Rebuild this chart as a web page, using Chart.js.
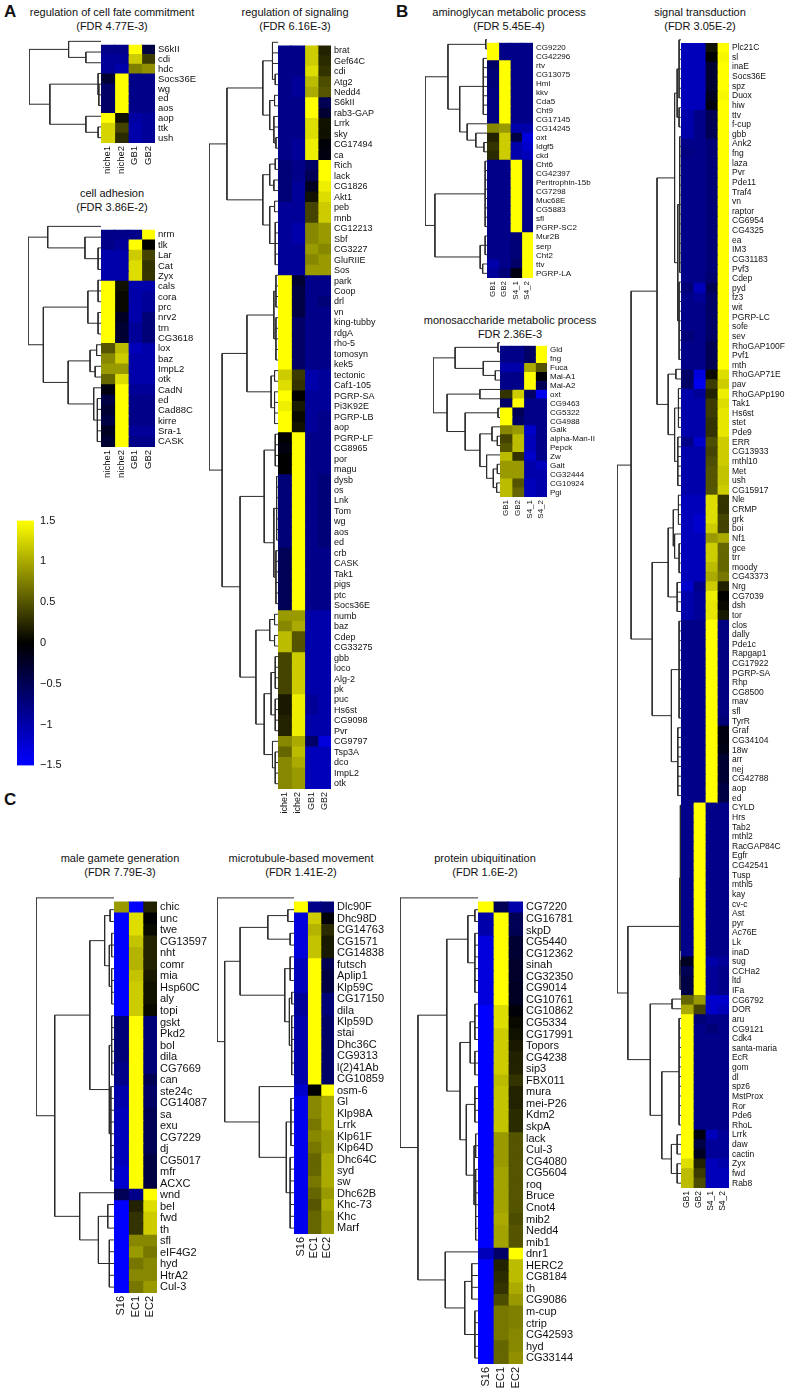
<!DOCTYPE html>
<html>
<head>
<meta charset="utf-8">
<script src="https://cdn.jsdelivr.net/npm/chart.js@4.4.1/dist/chart.umd.min.js"></script>
<style>
  body { margin: 0; background: #fff; }
  #fig { position: relative; width: 786px; height: 1388px; overflow: hidden;
         font-family: "Liberation Sans", Arial, sans-serif; color: #111; }
  .title { position: absolute; font-size: 11px; line-height: 14px; text-align: center;
           white-space: nowrap; transform: translateX(-50%); }
  .letter { position: absolute; font-size: 17px; font-weight: bold; }
  canvas { position: absolute; }
</style>
</head>
<body>
<div id="fig"></div>
<script>
// ---- column labels and colour key ----
const colsA = ['niche1', 'niche2', 'GB1', 'GB2'];
const colsB = ['GB1', 'GB2', 'S4_1', 'S4_2'];
const colsC = ['S16', 'EC1', 'EC2'];
const barTicks = [1.5, 1, 0.5, 0, -0.5, -1, -1.5];

// ---- A: regulation of cell fate commitment ----
const fateGenes = ['S6kII', 'cdi', 'hdc', 'Socs36E', 'wg', 'ed', 'aos', 'aop', 'ttk', 'ush'];
const fateVals = [
  [-0.8, -0.8, 1.5, -0.4], [-0.9, -0.9, 1.2, 0.35], [-0.9, -1.0, 0.75, 0.85],
  [-0.3, 1.5, -0.8, -0.8], [-0.6, 1.5, -0.8, -0.8], [-0.6, 1.5, -0.8, -0.8], [-0.6, 1.5, -0.8, -0.8],
  [1.5, 0.1, -0.95, -0.9], [1.25, 0.4, -1.0, -0.9], [1.25, 0.25, -1.0, -0.9]
];
const fateTree = [1, [0.45, 0, [0.21, 1, 2]], [0.71, [0.04, 3, [0.03, 4, 5, 6]], [0.21, 7, [0.04, 8, 9]]]];

// ---- A: cell adhesion ----
const adhGenes = ['nrm', 'tlk', 'Lar', 'Cat', 'Zyx', 'cals', 'cora', 'prc', 'nrv2', 'trn', 'CG3618',
  'lox', 'baz', 'ImpL2', 'otk', 'CadN', 'ed', 'Cad88C', 'kirre', 'Sra-1', 'CASK'];
const adhVals = [
  [-0.8, -0.8, -0.8, 1.5], [-0.8, -0.9, 1.5, 0.0], [-1.0, -1.0, 1.2, 0.4], [-1.0, -1.0, 1.3, 0.3],
  [-1.0, -1.0, 1.3, 0.3], [1.5, 0.1, -1.0, -1.0], [1.5, 0.05, -1.0, -0.9], [1.5, 0.05, -1.0, -0.9],
  [1.5, -0.2, -1.0, -0.7], [1.5, -0.3, -0.9, -0.7], [1.5, -0.3, -0.9, -0.7], [0.5, 1.1, -1.1, -1.0],
  [0.8, 1.2, -1.0, -1.0], [0.9, 0.9, -1.0, -1.0], [0.6, 1.3, -1.0, -1.0], [-0.1, 1.5, -0.9, -0.9],
  [-0.4, 1.5, -0.8, -0.8], [-0.3, 1.5, -0.8, -0.8], [-0.4, 1.5, -0.8, -0.8], [-0.2, 1.5, -0.9, -0.9],
  [-0.3, 1.5, -0.8, -0.8]
];
const adhTree = [1, [0.73, 0, [0.22, 1, [0.04, 2, 3, 4]]],
  [0.79, [0.18, [0.04, 5, 6, 7], [0.04, 8, 9, 10]],
    [0.45, [0.15, [0.06, 11, 12], [0.08, 13, 14]], [0.1, 15, [0.05, 16, 17, 18, 19, 20]]]]];

// ---- A: regulation of signaling ----
const sigGenes = ['brat', 'Gef64C', 'cdi', 'Atg2', 'Nedd4', 'S6kII', 'rab3-GAP', 'Lrrk', 'sky', 'CG17494',
  'ca', 'Rich', 'lack', 'CG1826', 'Akt1', 'peb', 'mnb', 'CG12213', 'Sbf', 'CG3227', 'GluRIIE', 'Sos',
  'park', 'Coop', 'drl', 'vn', 'king-tubby', 'rdgA', 'rho-5', 'tomosyn', 'kek5', 'tectonic', 'Caf1-105',
  'PGRP-SA', 'Pi3K92E', 'PGRP-LB', 'aop', 'PGRP-LF', 'CG8965', 'por', 'magu', 'dysb', 'os', 'Lnk', 'Tom',
  'wg', 'aos', 'ed', 'crb', 'CASK', 'Tak1', 'pigs', 'ptc', 'Socs36E', 'numb', 'baz', 'Cdep', 'CG33275',
  'gbb', 'loco', 'Alg-2', 'pk', 'puc', 'Hs6st', 'CG9098', 'Pvr', 'CG9797', 'Tsp3A', 'dco', 'ImpL2', 'otk'];
const sigVals = [
  [-0.8, -0.8, 1.2, 0.2], [-0.8, -0.8, 1.2, 0.25], [-0.8, -0.8, 1.3, 0.3], [-0.8, -0.9, 1.1, 0.45],
  [-0.8, -0.9, 1.0, 0.5], [-0.8, -0.8, 1.5, -0.5], [-0.8, -0.8, 1.5, -0.3], [-0.8, -0.8, 1.3, 0.1],
  [-0.8, -0.8, 1.3, 0.1], [-0.8, -0.9, 1.4, -0.05], [-0.8, -0.9, 1.4, -0.1], [-0.7, -0.8, -0.6, 1.5],
  [-0.7, -0.8, -0.5, 1.5], [-0.7, -0.9, -0.2, 1.4], [-0.7, -0.9, 0.1, 1.3], [-0.9, -0.9, 0.4, 1.2],
  [-0.9, -0.9, 0.4, 1.2], [-0.9, -1.0, 0.8, 0.9], [-0.9, -1.0, 0.8, 0.9], [-0.9, -0.9, 0.9, 0.8],
  [-0.9, -0.9, 0.8, 0.9], [-0.9, -0.9, 0.9, 0.9], [1.5, -0.3, -0.8, -0.8], [1.5, -0.4, -0.8, -0.8],
  [1.5, -0.4, -0.8, -0.7], [1.5, -0.4, -0.8, -0.8], [1.5, -0.6, -0.8, -0.8], [1.5, -0.6, -0.8, -0.8],
  [1.5, -0.6, -0.8, -0.8], [1.5, -0.6, -0.8, -0.8], [1.5, -0.6, -0.8, -0.8], [1.2, 0.35, -1.0, -0.9],
  [1.3, 0.3, -1.0, -0.9], [1.5, 0.0, -0.9, -0.9], [1.4, 0.15, -0.9, -0.9], [1.5, 0.05, -0.9, -0.8],
  [1.5, 0.1, -0.9, -0.8], [0.0, 1.5, -0.8, -0.8], [-0.1, 1.5, -0.8, -0.8], [0.0, 1.5, -0.8, -0.8],
  [0.0, 1.5, -0.8, -0.8], [-0.7, 1.5, -0.8, -0.7], [-0.7, 1.5, -0.8, -0.7], [-0.7, 1.5, -0.8, -0.7],
  [-0.7, 1.5, -0.8, -0.7], [-0.7, 1.5, -0.8, -0.7], [-0.7, 1.5, -0.8, -0.7], [-0.7, 1.5, -0.8, -0.7],
  [-0.5, 1.5, -0.8, -0.8], [-0.5, 1.5, -0.8, -0.8], [-0.5, 1.5, -0.8, -0.8], [-0.5, 1.5, -0.8, -0.8],
  [-0.5, 1.5, -0.8, -0.8], [-0.5, 1.5, -0.8, -0.8], [0.9, 0.9, -1.0, -1.0], [0.8, 1.0, -1.0, -1.0],
  [1.1, 0.5, -1.0, -1.0], [1.1, 0.5, -1.0, -1.0], [0.4, 1.2, -1.0, -1.0], [0.4, 1.2, -1.0, -1.0],
  [0.4, 1.2, -1.0, -1.0], [0.4, 1.2, -1.0, -1.0], [0.15, 1.4, -0.9, -1.0], [0.15, 1.4, -0.9, -1.0],
  [0.2, 1.4, -1.0, -1.0], [0.2, 1.4, -1.0, -1.0], [0.8, 1.0, -0.6, -1.3], [0.6, 1.1, -1.1, -1.1],
  [0.8, 1.0, -1.1, -1.1], [0.8, 0.9, -1.1, -1.1], [0.8, 0.9, -1.1, -1.1]
];
const sigTree = [1,
  [0.74, [0.22, [0.08, 0, 1, 2, [0.04, 3, 4]], [0.12, [0.05, 5, 6], [0.06, 7, 8, [0.03, 9, 10]]]],
    [0.22, [0.12, [0.04, 11, 12], [0.06, 13, 14]], [0.12, [0.05, 15, 16], [0.04, 17, 18, 19, 20, 21]]]],
  [0.81,
    [0.45, [0.06, [0.03, 22, 23, 24, 25], [0.03, 26, 27, 28, 29, 30]], [0.1, [0.05, 31, 32], [0.05, 33, 34, 35, 36]]],
    [0.55,
      [0.2, [0.04, 37, 38, 39, 40], [0.06, [0.02, 41, 42, 43, 44, 45, 46, 47], [0.03, 48, 49, 50, 51, 52, 53]]],
      [0.32, [0.12, [0.05, 54, 55], [0.05, 56, 57]],
        [0.2, [0.1, [0.04, 58, 59, 60, 61], [0.04, 62, 63, 64, 65]], [0.08, 66, [0.04, 67, 68, 69, 70]]]]]]];

// ---- B: aminoglycan metabolic process ----
const aminoGenes = ['CG9220', 'CG42296', 'rtv', 'CG13075', 'Hml', 'kkv', 'Cda5', 'Cht9', 'CG17145',
  'CG14245', 'oxt', 'Idgf5', 'ckd', 'Cht6', 'CG42397', 'Peritrophin-15b', 'CG7298', 'Muc68E', 'CG5883',
  'sfl', 'PGRP-SC2', 'Mur2B', 'serp', 'Cht2', 'ttv', 'PGRP-LA'];
const aminoVals = [
  [1.5, -0.8, -0.8, -0.8], [1.5, -0.8, -0.8, -0.8], [-0.6, 1.5, -0.8, -0.8], [-0.7, 1.5, -0.8, -0.8],
  [-0.7, 1.5, -0.8, -0.8], [-0.75, 1.5, -0.8, -0.8], [-0.75, 1.5, -0.8, -0.8], [-0.75, 1.5, -0.8, -0.8],
  [-0.75, 1.5, -0.8, -0.8], [0.8, 0.9, -1.0, -1.0], [0.2, 1.2, -0.4, -1.3], [0.3, 1.2, -1.0, -1.2],
  [0.25, 1.2, -1.0, -1.1], [-0.8, -0.8, 1.5, -0.8], [-0.8, -0.8, 1.5, -0.8], [-0.8, -0.8, 1.5, -0.8],
  [-0.8, -0.8, 1.5, -0.8], [-0.8, -0.8, 1.5, -0.8], [-0.8, -0.8, 1.5, -0.8], [-0.8, -0.8, 1.5, -0.8],
  [-0.8, -0.8, 1.5, -0.8], [-0.8, -0.8, -0.7, 1.5], [-0.8, -0.8, -0.7, 1.5], [-0.8, -0.8, -0.7, 1.5],
  [-1.0, -0.8, -0.6, 1.5], [-0.9, -0.7, -0.1, 1.5]
];
const aminoTree = [1,
  [0.63, [0.02, 0, 1], [0.44, [0.06, 2, 3, 4, 5, 6, 7, 8], [0.32, 9, [0.18, 10, [0.05, 11, 12]]]]],
  [0.84, [0.03, 13, 14, 15, 16, 17, 18, 19, 20], [0.11, [0.03, 21, 22, 23], [0.07, 24, 25]]]];

// ---- B: monosaccharide metabolic process ----
const monoGenes = ['Gld', 'fng', 'Fuca', 'Mal-A1', 'Mal-A2', 'oxt', 'CG9463', 'CG5322', 'CG4988', 'Galk',
  'alpha-Man-II', 'Pepck', 'Zw', 'Galt', 'CG32444', 'CG10924', 'Pgi'];
const monoVals = [
  [-0.8, -0.8, -0.6, 1.5], [-0.8, -0.8, -0.6, 1.5], [-1.0, -1.0, 1.0, 0.5], [-0.8, -0.8, 1.5, 0.0],
  [-0.8, -0.8, 1.5, -0.5], [0.3, 1.2, -0.6, -1.4], [-0.6, 1.5, -0.8, -0.8], [1.5, -0.5, -0.8, -0.8],
  [1.5, -0.6, -0.8, -0.8], [0.8, 0.9, -1.2, -0.8], [0.4, 1.1, -1.1, -0.8], [0.5, 1.1, -1.1, -0.8],
  [1.1, 0.3, -1.2, -0.8], [0.9, 0.9, -1.0, -1.1], [0.9, 0.9, -1.0, -1.0], [1.1, 0.5, -1.1, -1.0],
  [1.1, 0.6, -1.1, -1.0]
];
const monoTree = [1, [0.67, [0.03, 0, 1], [0.25, 2, [0.07, 3, 4]]],
  [0.79, [0.3, 5, 6], [0.52, [0.03, 7, 8],
    [0.3, [0.12, 9, [0.04, 10, 11]], [0.2, 12, [0.1, [0.04, 13, 14], [0.05, 15, 16]]]]]]];

// ---- B: signal transduction ----
const stGenes = ['Plc21C', 'sl', 'inaE', 'Socs36E', 'spz', 'Duox', 'hiw', 'ttv', 'f-cup', 'gbb', 'Ank2',
  'fng', 'laza', 'Pvr', 'Pde11', 'Traf4', 'vn', 'raptor', 'CG6954', 'CG4325', 'ea', 'IM3', 'CG31183',
  'Pvf3', 'Cdep', 'pyd', 'fz3', 'wit', 'PGRP-LC', 'sofe', 'sev', 'RhoGAP100F', 'Pvf1', 'mth', 'RhoGAP71E',
  'pav', 'RhoGAPp190', 'Tak1', 'Hs6st', 'stet', 'Pde9', 'ERR', 'CG13933', 'mthl10', 'Met', 'ush',
  'CG15917', 'Nle', 'CRMP', 'grk', 'boi', 'Nf1', 'gce', 'trr', 'moody', 'CG43373', 'Nrg', 'CG7039', 'dsh',
  'tor', 'clos', 'dally', 'Pde1c', 'Rapgap1', 'CG17922', 'PGRP-SA', 'Rhp', 'CG8500', 'mav', 'sfl', 'TyrR',
  'Graf', 'CG34104', '18w', 'arr', 'nej', 'CG42788', 'aop', 'ed', 'CYLD', 'Hrs', 'Tab2', 'mthl2',
  'RacGAP84C', 'Egfr', 'CG42541', 'Tusp', 'mthl5', 'kay', 'cv-c', 'Ast', 'pyr', 'Ac76E', 'Lk', 'inaD',
  'sug', 'CCHa2', 'ltd', 'IFa', 'CG6792', 'DOR', 'aru', 'CG9121', 'Cdk4', 'santa-maria', 'EcR', 'gom',
  'dl', 'spz6', 'MstProx', 'Ror', 'Pde6', 'RhoL', 'Lrrk', 'daw', 'cactin', 'Zyx', 'fwd', 'Rab8'];
const stVals = [
  [-1.1, -1.1, 0.1, 1.5], [-1.1, -1.1, 0.0, 1.45], [-1.1, -1.1, -0.3, 1.5], [-1.1, -1.1, -0.3, 1.5],
  [-1.1, -1.1, -0.3, 1.5], [-1.1, -1.1, -0.2, 1.45], [-1.1, -1.1, -0.1, 1.5], [-1.0, -0.8, -0.5, 1.5],
  [-1.0, -0.8, -0.5, 1.5], [-1.0, -0.8, -0.5, 1.5], [-0.8, -0.8, -0.7, 1.5], [-0.75, -0.8, -0.7, 1.5],
  [-0.8, -0.8, -0.7, 1.5], [-0.8, -0.8, -0.7, 1.5], [-0.8, -0.8, -0.7, 1.5], [-0.8, -0.8, -0.7, 1.5],
  [-0.8, -0.8, -0.7, 1.5], [-0.8, -0.8, -0.7, 1.5], [-0.8, -0.8, -0.7, 1.5], [-0.8, -0.8, -0.7, 1.5],
  [-0.8, -0.8, -0.7, 1.5], [-0.8, -0.8, -0.7, 1.5], [-0.8, -0.8, -0.7, 1.5], [-0.8, -0.8, -0.7, 1.5],
  [-0.8, -0.8, -0.65, 1.5], [-0.7, -1.1, -0.5, 1.5], [-0.8, -0.9, -0.6, 1.5], [-0.8, -0.8, -0.6, 1.5],
  [-0.8, -0.8, -0.6, 1.5], [-0.8, -0.8, -0.6, 1.5], [-0.7, -0.8, -0.6, 1.5], [-0.8, -0.8, -0.5, 1.5],
  [-0.8, -0.8, -0.5, 1.5], [-0.8, -0.8, -0.5, 1.5], [-0.6, -1.3, 0.05, 1.3], [-0.6, -1.4, 0.35, 1.2],
  [-1.0, -0.9, 0.2, 1.4], [-1.0, -1.0, 0.35, 1.3], [-1.0, -1.0, 0.35, 1.35], [-1.0, -1.0, 0.3, 1.35],
  [-1.0, -1.0, 0.3, 1.35], [-0.8, -1.2, 0.45, 1.2], [-1.0, -1.0, 0.4, 1.2], [-1.0, -1.0, 0.45, 1.2],
  [-1.0, -1.0, 0.5, 1.15], [-1.0, -1.0, 0.5, 1.15], [-1.0, -1.0, 0.5, 1.2], [-1.1, -1.1, 1.3, 0.3],
  [-1.1, -1.1, 1.3, 0.3], [-1.1, -1.2, 1.3, 0.4], [-1.1, -1.2, 1.2, 0.4], [-1.1, -1.1, 0.9, 1.0],
  [-1.1, -1.1, 1.2, 0.6], [-1.1, -1.1, 1.2, 0.6], [-1.1, -1.1, 1.1, 0.6], [-1.1, -1.1, 1.0, 0.7],
  [-1.2, -0.8, 1.2, 0.2], [-1.0, -0.9, 1.4, 0.0], [-1.0, -0.9, 1.35, 0.05], [-1.0, -0.9, 1.35, 0.15],
  [-0.8, -0.8, 1.5, -0.75], [-0.8, -0.8, 1.5, -0.75], [-0.8, -0.8, 1.5, -0.75], [-0.8, -0.8, 1.5, -0.75],
  [-0.8, -0.8, 1.5, -0.75], [-0.8, -0.8, 1.5, -0.75], [-0.8, -0.8, 1.5, -0.75], [-0.8, -0.8, 1.5, -0.75],
  [-0.8, -0.8, 1.5, -0.75], [-0.8, -0.8, 1.5, -0.75], [-0.8, -0.8, 1.5, -0.7], [-0.8, -0.8, 1.5, -0.1],
  [-0.8, -0.8, 1.5, -0.1], [-0.8, -0.8, 1.5, -0.15], [-0.8, -0.8, 1.5, -0.3], [-0.8, -0.8, 1.5, -0.3],
  [-0.8, -0.8, 1.5, -0.3], [-0.8, -0.8, 1.5, -0.4], [-0.8, -0.8, 1.5, -0.4], [-0.8, 1.5, -0.8, -0.8],
  [-0.8, 1.5, -0.8, -0.8], [-0.8, 1.5, -0.8, -0.8], [-0.8, 1.5, -0.8, -0.8], [-0.8, 1.5, -0.8, -0.8],
  [-0.8, 1.5, -0.8, -0.8], [-0.8, 1.5, -0.8, -0.8], [-0.8, 1.5, -0.8, -0.8], [-0.8, 1.5, -0.8, -0.8],
  [-0.8, 1.5, -0.8, -0.8], [-0.8, 1.5, -0.8, -0.8], [-0.8, 1.5, -0.8, -0.8], [-0.8, 1.5, -0.8, -0.8],
  [-0.8, 1.5, -0.8, -0.8], [-0.8, 1.5, -0.8, -0.8], [-0.8, 1.5, -0.8, -0.8], [-0.2, 1.5, -1.0, -0.9],
  [-0.5, 1.5, -0.9, -0.8], [-0.4, 1.5, -0.9, -0.8], [-0.4, 1.5, -0.9, -0.8], [0.6, 0.9, -1.2, -1.2],
  [1.0, 0.4, -1.2, -1.1], [1.5, -0.7, -0.8, -0.8], [1.5, -0.8, -0.7, -0.8], [1.5, -0.8, -0.8, -0.8],
  [1.5, -0.8, -0.8, -0.8], [1.5, -0.8, -0.8, -0.8], [1.5, -0.8, -0.8, -0.8], [1.5, -0.8, -0.8, -0.8],
  [1.5, -0.8, -0.8, -0.8], [1.5, -0.8, -0.8, -0.8], [1.5, -0.8, -0.8, -0.8], [1.5, -0.8, -0.8, -0.8],
  [1.5, -0.8, -0.8, -0.8], [1.5, -0.1, -1.1, -0.9], [1.5, -0.4, -0.9, -0.9], [1.5, -0.2, -0.9, -0.9],
  [1.3, 0.2, -1.1, -1.0], [1.1, 0.35, -1.1, -1.1], [1.1, 0.45, -1.1, -1.1]
];
const stTree = [1,
  [0.78,
    [0.375,
      [0.1, [0.06, [0.03, 0, 1, 2, 3, 4, 5, 6], [0.03, 7, 8, 9]],
        [0.05, [0.02, 10, 11, 12, 13, 14, 15, 16, 17, 18, 19, 20, 21, 22, 23, 24], [0.03, 25, 26, 27, 28, 29, 30, 31, 32, 33]]],
      [0.2, [0.08, 34, 35], [0.1, [0.04, 36, 37, 38, 39, 40], [0.05, 41, 42, 43, 44, 45, 46]]]],
    [0.45,
      [0.2, [0.12, [0.04, 47, 48, 49, 50], [0.1, 51, [0.03, 52, 53, 54, 55]]], [0.06, 56, 57, 58, 59]],
      [0.15, [0.03, 60, 61, 62, 63, 64, 65, 66, 67, 68, 69, 70], [0.05, 71, 72, 73, 74, 75, 76, 77, 78]]]],
  [0.83,
    [0.02, [0.01, 79, 80, 81, 82, 83, 84, 85, 86, 87, 88, 89, 90, 91, 92, 93, 94], [0.015, 95, 96, 97, 98]],
    [0.48, [0.14, 99, 100],
      [0.3, [0.03, 101, 102, 103, 104, 105, 106, 107, 108, 109, 110, 111, 112],
        [0.15, [0.06, 113, 114, 115], [0.06, 116, 117, 118]]]]]];

// ---- C: male gamete generation ----
const maleGenes = ['chic', 'unc', 'twe', 'CG13597', 'nht', 'comr', 'mia', 'Hsp60C', 'aly', 'topi', 'gskt',
  'Pkd2', 'bol', 'dila', 'CG7669', 'can', 'ste24c', 'CG14087', 'sa', 'exu', 'CG7229', 'dj', 'CG5017', 'mfr',
  'ACXC', 'wnd', 'bel', 'fwd', 'th', 'sfl', 'eIF4G2', 'hyd', 'HtrA2', 'Cul-3'];
const maleVals = [
  [0.9, -1.5, 0.2], [-1.5, 1.3, 0.0], [-1.5, 1.3, 0.05], [-1.5, 1.15, 0.2], [-1.5, 1.05, 0.2],
  [-1.5, 1.05, 0.2], [-1.5, 1.15, 0.15], [-1.5, 1.2, 0.1], [-1.5, 1.2, 0.1], [-1.5, 1.2, 0.05],
  [-0.7, 1.5, -0.7], [-0.7, 1.5, -0.7], [-0.7, 1.5, -0.7], [-0.7, 1.5, -0.7], [-0.8, 1.5, -0.7],
  [-0.8, 1.5, -0.5], [-1.0, 1.5, -0.6], [-1.0, 1.5, -0.6], [-1.1, 1.5, -0.5], [-1.1, 1.5, -0.5],
  [-1.1, 1.5, -0.5], [-1.1, 1.5, -0.5], [-1.1, 1.5, -0.4], [-1.2, 1.5, -0.4], [-1.2, 1.5, -0.4],
  [-0.5, -0.8, 1.5], [-1.5, 0.2, 1.3], [-1.5, 0.3, 1.2], [-1.5, 0.3, 1.2], [-1.5, 0.8, 0.8],
  [-1.5, 0.9, 0.7], [-1.5, 0.7, 0.8], [-1.5, 0.8, 0.8], [-1.5, 0.7, 0.9]
];
const maleTree = [1, 0,
  [0.76,
    [0.31, [0.12, [0.05, 1, 2], [0.06, [0.03, 3, 4, 5], [0.03, 6, 7, 8, 9]]],
      [0.06, [0.03, 10, 11, 12, 13, 14, 15], [0.04, 16, 17, 18, 19, 20, 21, 22, 23, 24]]],
    [0.44, 25, [0.2, [0.08, 26, 27, 28], [0.06, 29, 30, 31, 32, 33]]]]];

// ---- C: microtubule-based movement ----
const microGenes = ['Dlc90F', 'Dhc98D', 'CG14763', 'CG1571', 'CG14838', 'futsch', 'Aplip1', 'Klp59C',
  'CG17150', 'dila', 'Klp59D', 'stai', 'Dhc36C', 'CG9313', 'l(2)41Ab', 'CG10859', 'osm-6', 'Gl', 'Klp98A',
  'Lrrk', 'Klp61F', 'Klp64D', 'Dhc64C', 'syd', 'sw', 'Dhc62B', 'Khc-73', 'Khc', 'Marf'];
const microVals = [
  [1.5, -0.8, -0.7], [-1.3, 1.2, -0.05], [-1.3, 1.05, 0.25], [-1.3, 1.15, 0.15], [-1.3, 1.15, 0.15],
  [-1.1, 1.5, -0.5], [-1.1, 1.5, -0.4], [-1.1, 1.5, -0.4], [-0.9, 1.5, -0.7], [-0.9, 1.5, -0.7],
  [-1.0, 1.5, -0.6], [-1.0, 1.5, -0.6], [-1.0, 1.5, -0.6], [-1.0, 1.5, -0.6], [-1.0, 1.5, -0.6],
  [-1.0, 1.5, -0.6], [-1.2, 0.0, 1.5], [-1.4, 0.8, 1.0], [-1.4, 0.8, 1.0], [-1.4, 0.7, 1.0],
  [-1.4, 0.8, 0.9], [-1.4, 0.7, 0.9], [-1.4, 0.6, 1.0], [-1.4, 0.6, 1.0], [-1.4, 0.7, 1.0],
  [-1.4, 0.6, 0.9], [-1.4, 0.5, 1.0], [-1.4, 0.6, 0.9], [-1.4, 0.6, 0.9]
];
const microTree = [1, 0,
  [0.9,
    [0.7, [0.34, [0.08, 1, 2], [0.05, 3, 4]],
      [0.12, [0.05, 5, 6, 7], [0.06, [0.03, 8, 9], [0.03, 10, 11, 12, 13, 14, 15]]]],
    [0.45, 16, [0.1, [0.04, 17, 18, 19, 20, 21], [0.05, 22, 23, 24, 25, 26, 27, 28]]]]];

// ---- C: protein ubiquitination ----
const ubiqGenes = ['CG7220', 'CG16781', 'skpD', 'CG5440', 'CG12362', 'sinah', 'CG32350', 'CG9014',
  'CG10761', 'CG10862', 'CG5334', 'CG17991', 'Topors', 'CG4238', 'sip3', 'FBX011', 'mura', 'mei-P26',
  'Kdm2', 'skpA', 'lack', 'Cul-3', 'CG4080', 'CG5604', 'roq', 'Bruce', 'Cnot4', 'mib2', 'Nedd4', 'mib1',
  'dnr1', 'HERC2', 'CG8184', 'th', 'CG9086', 'm-cup', 'ctrip', 'CG42593', 'hyd', 'CG33144'];
const ubiqVals = [
  [1.5, -0.5, -1.0], [-1.0, 1.5, -0.5], [-1.0, 1.5, -0.5], [-1.3, 1.5, -0.3], [-1.3, 1.5, -0.3],
  [-1.3, 1.5, -0.25], [-1.3, 1.5, -0.25], [-1.3, 1.5, -0.2], [-1.3, 1.5, -0.2], [-1.5, 1.3, -0.05],
  [-1.5, 1.3, 0.05], [-1.5, 1.2, 0.1], [-1.5, 1.2, 0.15], [-1.5, 1.2, 0.2], [-1.5, 1.2, 0.2],
  [-1.5, 1.1, 0.3], [-1.5, 1.15, 0.2], [-1.5, 1.15, 0.2], [-1.5, 1.15, 0.25], [-1.5, 1.15, 0.25],
  [-1.5, 0.9, 0.5], [-1.5, 0.9, 0.5], [-1.5, 0.9, 0.5], [-1.5, 0.95, 0.5], [-1.5, 0.95, 0.5],
  [-1.5, 0.95, 0.5], [-1.5, 0.95, 0.5], [-1.5, 1.0, 0.45], [-1.5, 0.95, 0.5], [-1.5, 0.95, 0.5],
  [-1.1, -0.6, 1.5], [-1.5, 0.2, 1.1], [-1.5, 0.25, 1.1], [-1.5, 0.3, 1.0], [-1.5, 0.45, 0.9],
  [-1.5, 0.7, 0.75], [-1.5, 0.7, 0.75], [-1.5, 0.7, 0.8], [-1.5, 0.6, 0.8], [-1.5, 0.6, 0.85]
];
const ubiqTree = [1, 0,
  [0.77,
    [0.4, [0.13, [0.04, 1, 2], [0.04, 3, 4, 5, 6, 7, 8]],
      [0.23, [0.1, [0.04, 9, 10, 11, 12], [0.04, 13, 14, 15]],
        [0.15, [0.04, 16, 17, 18, 19], [0.05, [0.03, 20, 21, 22], [0.03, 23, 24, 25, 26, 27, 28, 29]]]]],
    [0.42, 30, [0.17, [0.08, 31, 32, 33, 34], [0.04, 35, 36, 37, 38, 39]]]]];

// ---- layout (pixel boxes: cell area left, top, right, bottom; dendrogram root x) ----
const panels = [
  { genes: fateGenes, vals: fateVals, cols: colsA, tree: fateTree, box: [101, 36, 155, 143], root: 29, labW: 50, colH: 36, fs: 9.5 },
  { genes: adhGenes, vals: adhVals, cols: colsA, tree: adhTree, box: [101, 221, 155, 447], root: 28, labW: 50, colH: 36, fs: 9.5 },
  { genes: sigGenes, vals: sigVals, cols: colsA, tree: sigTree, box: [278, 37, 331, 789], root: 209, labW: 64, colH: 25, fs: 9 },
  { genes: aminoGenes, vals: aminoVals, cols: colsB, tree: aminoTree, box: [487, 35, 533, 278], root: 425, labW: 74, colH: 22, fs: 8 },
  { genes: monoGenes, vals: monoVals, cols: colsB, tree: monoTree, box: [500, 338, 547, 497], root: 433, labW: 64, colH: 22, fs: 8 },
  { genes: stGenes, vals: stVals, cols: colsB, tree: stTree, box: [681, 35, 729, 1188], root: 617, labW: 57, colH: 24, fs: 8.5 },
  { genes: maleGenes, vals: maleVals, cols: colsC, tree: maleTree, box: [114, 892, 157, 1293], root: 36, labW: 60, colH: 26, fs: 11 },
  { genes: microGenes, vals: microVals, cols: colsC, tree: microTree, box: [294, 892, 334, 1234], root: 217, labW: 60, colH: 26, fs: 11 },
  { genes: ubiqGenes, vals: ubiqVals, cols: colsC, tree: ubiqTree, box: [478, 892, 523, 1364], root: 400, labW: 60, colH: 24, fs: 11 }
];

const titles = [
  ['regulation of cell fate commitment', '(FDR 4.77E-3)', 112, 5],
  ['cell adhesion', '(FDR 3.86E-2)', 112, 186],
  ['regulation of signaling', '(FDR 6.16E-3)', 295, 5],
  ['aminoglycan metabolic process', '(FDR 5.45E-4)', 509, 5],
  ['monosaccharide metabolic process', 'FDR 2.36E-3', 510, 313],
  ['signal transduction', '(FDR 3.05E-2)', 700, 5],
  ['male gamete generation', '(FDR 7.79E-3)', 120, 851],
  ['microtubule-based movement', '(FDR 1.41E-2)', 301, 851],
  ['protein ubiquitination', '(FDR 1.6E-2)', 485, 851]
];
const letters = [['A', 4, 2], ['B', 396, 2], ['C', 4, 790]];

Chart.defaults.font.family = '"Liberation Sans", Arial, sans-serif';
Chart.defaults.color = '#111';
Chart.defaults.animation = false;

const fig = document.getElementById('fig');

function addCanvas(x, y, w, h) {
  const c = document.createElement('canvas');
  c.width = w; c.height = h;
  c.style.left = x + 'px'; c.style.top = y + 'px';
  c.style.width = w + 'px'; c.style.height = h + 'px';
  fig.appendChild(c);
  return c;
}

// blue -> black -> yellow, clipped at +/-1.5
function heatColor(v) {
  const t = Math.max(-1, Math.min(1, v / 1.5));
  if (t < 0) return 'rgb(0,0,' + Math.round(-t * 255) + ')';
  const c = Math.round(t * 255);
  return 'rgb(' + c + ',' + c + ',0)';
}

// turn a nested [height, child, child...] tree into elbow line points
function dendroPoints(tree) {
  const pts = [];
  function walk(n) {
    if (typeof n === 'number') return { y: n, h: 0 };
    const h = n[0];
    const kids = n.slice(1).map(walk);
    kids.forEach(k => pts.push({ x: k.h, y: k.y }, { x: h, y: k.y }, { x: null, y: null }));
    const y0 = kids[0].y, y1 = kids[kids.length - 1].y;
    pts.push({ x: h, y: y0 }, { x: h, y: y1 }, { x: null, y: null });
    return { y: (y0 + y1) / 2, h: h };
  }
  walk(tree);
  return pts;
}

function drawHeatmap(p) {
  const [l, t, r, b] = p.box;
  const cv = addCanvas(l, t, r - l + p.labW, b - t + p.colH);
  new Chart(cv, {
    type: 'bar',
    data: {
      labels: p.genes,
      datasets: p.cols.map((c, j) => ({
        label: c,
        data: p.genes.map(() => [j, j + 1]),
        backgroundColor: p.vals.map(row => heatColor(row[j])),
        borderWidth: 0,
        inflateAmount: 0.6,
        barPercentage: 1,
        categoryPercentage: 1,
        grouped: false
      }))
    },
    options: {
      indexAxis: 'y',
      responsive: false,
      devicePixelRatio: 1,
      layout: { padding: 0 },
      plugins: { legend: { display: false }, tooltip: { enabled: false } },
      scales: {
        y: {
          position: 'right',
          grid: { display: false, drawTicks: false },
          border: { display: false },
          ticks: { autoSkip: false, padding: 3, color: '#111', font: { size: p.fs } },
          afterFit: s => { s.width = p.labW; }
        },
        x: {
          type: 'linear', min: 0, max: p.cols.length,
          grid: { display: false, drawTicks: false },
          border: { display: false },
          afterBuildTicks: s => { s.ticks = p.cols.map((c, j) => ({ value: j + 0.5 })); },
          ticks: {
            autoSkip: false, minRotation: 90, maxRotation: 90, padding: 3, color: '#111',
            font: { size: p.fs }, callback: (v, i) => p.cols[i]
          },
          afterFit: s => { s.height = p.colH; }
        }
      }
    }
  });
}

function drawDendro(p) {
  const [l, t, r, b] = p.box;
  const pad = 3;
  const cv = addCanvas(p.root - pad, t, l - p.root + pad, b - t);
  new Chart(cv, {
    type: 'scatter',
    data: {
      datasets: [{
        data: dendroPoints(p.tree),
        showLine: true,
        spanGaps: false,
        pointRadius: 0,
        borderColor: '#2b2b2b',
        borderWidth: 1,
        tension: 0
      }]
    },
    options: {
      responsive: false,
      devicePixelRatio: 1,
      layout: { padding: { left: pad, right: 0, top: 0, bottom: 0 } },
      plugins: { legend: { display: false }, tooltip: { enabled: false } },
      scales: {
        x: { type: 'linear', display: false, min: 0, max: 1, reverse: true },
        y: { type: 'linear', display: false, min: -0.5, max: p.genes.length - 0.5, reverse: true }
      }
    }
  });
}

function drawColorKey() {
  const cv = addCanvas(17, 508, 50, 270);
  new Chart(cv, {
    type: 'bar',
    data: {
      labels: [''],
      datasets: [{
        data: [[barTicks[barTicks.length - 1], barTicks[0]]],
        barPercentage: 1,
        categoryPercentage: 1,
        borderWidth: 0,
        backgroundColor: ctx => {
          const a = ctx.chart.chartArea;
          if (!a) return '#000';
          const g = ctx.chart.ctx.createLinearGradient(0, a.bottom, 0, a.top);
          g.addColorStop(0, heatColor(-1.5));
          g.addColorStop(0.5, heatColor(0));
          g.addColorStop(1, heatColor(1.5));
          return g;
        }
      }]
    },
    options: {
      responsive: false,
      devicePixelRatio: 1,
      layout: { padding: { top: 8, bottom: 8 } },
      plugins: { legend: { display: false }, tooltip: { enabled: false } },
      scales: {
        x: { display: false },
        y: {
          position: 'right', min: -1.5, max: 1.5,
          grid: { display: false, drawTicks: false },
          border: { display: false },
          afterBuildTicks: s => { s.ticks = barTicks.map(v => ({ value: v })); },
          ticks: {
            padding: 6, color: '#111', font: { size: 11 },
            callback: v => (v < 0 ? '\u2212' + Math.abs(v) : String(v))
          },
          afterFit: s => { s.width = 33; }
        }
      }
    }
  });
}

titles.forEach(([a, b, cx, top]) => {
  const d = document.createElement('div');
  d.className = 'title';
  d.style.left = cx + 'px';
  d.style.top = top + 'px';
  d.innerHTML = a + '<br>' + b;
  fig.appendChild(d);
});
letters.forEach(([s, x, y]) => {
  const d = document.createElement('div');
  d.className = 'letter';
  d.style.left = x + 'px';
  d.style.top = y + 'px';
  d.textContent = s;
  fig.appendChild(d);
});

panels.forEach(p => { drawDendro(p); drawHeatmap(p); });
drawColorKey();
</script>
</body>
</html>
